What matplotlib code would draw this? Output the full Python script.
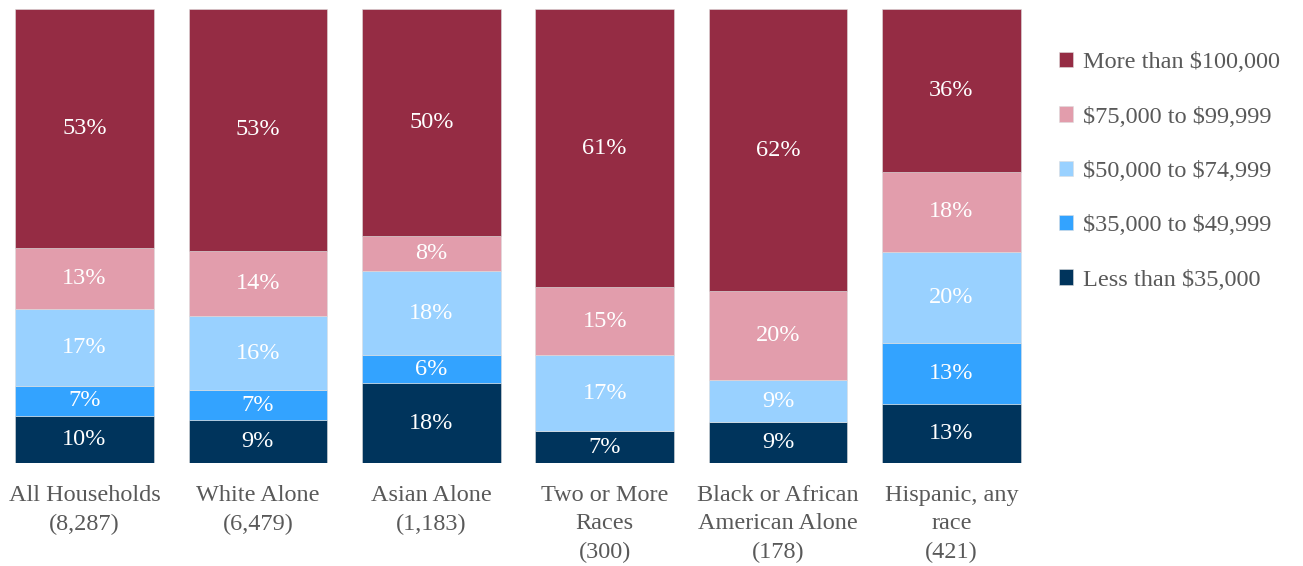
import numpy as np
import matplotlib.pyplot as plt

plt.switch_backend('Agg')
plt.rcParams['font.family'] = ['Liberation Serif', 'DejaVu Serif']

# DATA (shares, bottom to top)
groups = ["All Households\n(8,287)", "White Alone\n(6,479)", "Asian Alone\n(1,183)",
          "Two or More\nRaces\n(300)", "Black or African\nAmerican Alone\n(178)",
          "Hispanic, any\nrace\n(421)"]
series_names = ["Less than \\$35,000", "\\$35,000 to \\$49,999", "\\$50,000 to \\$74,999",
                "\\$75,000 to \\$99,999", "More than \\$100,000"]
less_35k = [10.4, 9.4, 17.6, 7.0, 9.0, 13.0]
k35_50k = [6.6, 6.6, 6.2, 0.0, 0.0, 13.4]
k50_75k = [17.0, 16.4, 18.4, 16.7, 9.3, 20.0]
k75_100k = [13.4, 14.3, 7.9, 15.0, 19.6, 17.8]
over_100k = [52.6, 53.3, 49.9, 61.3, 62.2, 35.8]

colors = ["#00345C", "#33A3FF", "#99D1FF", "#E29DAC", "#952C44"]

values = np.array([less_35k, k35_50k, k50_75k, k75_100k, over_100k])
shares = values / values.sum(axis=0) * 100

fig = plt.figure(figsize=(13.03, 5.66), dpi=100)
ax = fig.add_axes([6.5 / 1303, 1 - 463 / 566, 1023 / 1303, 454 / 566])

x = np.arange(len(groups))
bottom = np.zeros(len(groups))
handles = []
for i, name in enumerate(series_names):
    bars = ax.bar(x, shares[i], 0.8, bottom=bottom, color=colors[i],
                  edgecolor="#dddddd", linewidth=0.4, label=name)
    handles.append(bars)
    for j in range(len(groups)):
        if values[i, j] > 0:
            ax.text(x[j], bottom[j] + shares[i, j] / 2, f"{round(values[i, j]):.0f}%",
                    ha="center", va="center", fontsize=17.5, color="white")
    bottom += shares[i]

ax.set_xlim(-0.45, 5.45)
ax.set_ylim(0, 100)
ax.set_yticks([])
ax.set_xticks(x)
ax.set_xticklabels(groups, fontsize=17.5, color="#595959", linespacing=1.45, va="top")
ax.tick_params(axis="x", length=0, pad=16)
for s in ax.spines.values():
    s.set_visible(False)

leg = fig.legend(handles[::-1], series_names[::-1], loc="upper left",
                 bbox_to_anchor=(1037 / 1303, 1 - 30 / 566), frameon=False,
                 fontsize=17.5, labelcolor="#595959", handlelength=0.6, handleheight=0.6,
                 handletextpad=0.4, labelspacing=1.36)

fig.savefig("out.png", dpi=100)
